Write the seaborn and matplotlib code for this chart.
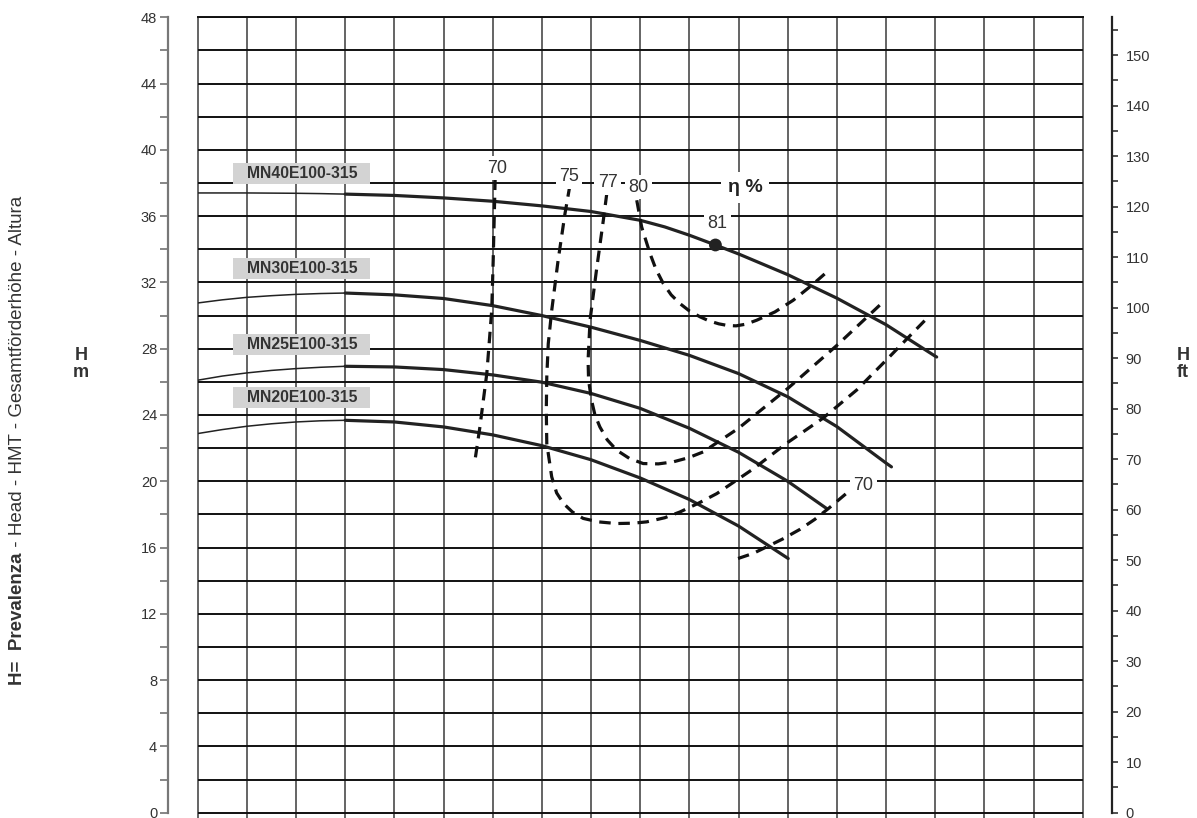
import numpy as np
import pandas as pd
import seaborn as sns
import matplotlib.pyplot as plt
from matplotlib.patches import Rectangle
from matplotlib.ticker import MultipleLocator

# ---- pump curves (x in grid columns, H in m) ----
models = ["MN40E100-315", "MN30E100-315", "MN25E100-315", "MN20E100-315"]
model_label_y = [38.57, 32.85, 28.27, 25.06]

thin_x = [0, 0.5, 1, 1.5, 2, 2.5, 3]
mn40_thin_y = [37.4, 37.4, 37.4, 37.39, 37.38, 37.36, 37.33]
mn30_thin_y = [30.76, 30.95, 31.1, 31.2, 31.28, 31.33, 31.36]
mn25_thin_y = [26.1, 26.35, 26.54, 26.69, 26.8, 26.88, 26.94]
mn20_thin_y = [22.88, 23.12, 23.32, 23.47, 23.58, 23.65, 23.68]

mn40_x = [3, 4, 5, 6, 7, 8, 9, 9.5, 10, 10.53, 11, 12, 13, 14, 15, 15.03]
mn40_y = [37.33, 37.25, 37.1, 36.9, 36.62, 36.28, 35.75, 35.35, 34.85, 34.26, 33.72, 32.47, 31.05,
          29.45, 27.55, 27.5]
mn30_x = [3, 4, 5, 6, 7, 8, 9, 10, 11, 12, 13, 14, 14.11]
mn30_y = [31.36, 31.25, 31.03, 30.6, 30.0, 29.3, 28.5, 27.6, 26.5, 25.1, 23.3, 21.1, 20.87]
mn25_x = [3, 4, 5, 6, 7, 8, 9, 10, 11, 12, 12.79]
mn25_y = [26.94, 26.9, 26.74, 26.42, 25.98, 25.3, 24.4, 23.2, 21.75, 20.0, 18.36]
mn20_x = [3, 4, 5, 6, 7, 8, 9, 10, 11, 12.01]
mn20_y = [23.68, 23.58, 23.28, 22.8, 22.15, 21.3, 20.2, 18.9, 17.3, 15.34]

# ---- efficiency curves ----
eff70a_x = [6.05, 6.03, 6.01, 5.98, 5.93, 5.88, 5.81, 5.74, 5.64]
eff70a_y = [38.27, 35.8, 33.33, 30.32, 28.4, 26.5, 24.9, 23.28, 21.27]
eff75_x = [7.57, 7.47, 7.33, 7.2, 7.13, 7.1, 7.09, 7.1, 7.2, 7.3, 7.44, 7.62, 7.84, 8.15, 8.52, 8.85,
           9.13, 9.5, 9.81, 10.2, 10.56, 11.3, 11.98, 12.71, 13.4, 14.0, 14.86]
eff75_y = [37.86, 36.15, 33.33, 30.3, 28.3, 26.3, 24.3, 22.28, 20.27, 19.3, 18.66, 18.15, 17.76, 17.55,
           17.45, 17.47, 17.55, 17.8, 18.15, 18.7, 19.26, 20.75, 22.3, 23.79, 25.5, 27.3, 29.92]
eff77_x = [8.32, 8.25, 8.11, 7.98, 7.94, 7.95, 8.01, 8.08, 8.18, 8.33, 8.52, 8.78, 9.06, 9.37, 9.67,
           9.98, 10.28, 11.0, 12.0, 13.0, 13.98]
eff77_y = [37.36, 35.75, 32.73, 29.72, 27.31, 26.1, 24.89, 24.0, 23.28, 22.5, 21.88, 21.38, 21.07,
           21.05, 21.17, 21.42, 21.77, 23.2, 25.6, 28.2, 30.93]
eff80_x = [8.93, 9.03, 9.2, 9.32, 9.47, 9.63, 9.81, 10.0, 10.22, 10.4, 10.6, 10.78, 10.95, 11.15, 11.37,
           11.74, 12.11, 12.49, 12.82]
eff80_y = [36.96, 35.34, 33.74, 32.8, 31.93, 31.25, 30.72, 30.28, 29.92, 29.68, 29.5, 29.4, 29.38,
           29.48, 29.72, 30.22, 30.92, 31.83, 32.69]
eff70b_x = [10.99, 11.3, 11.57, 11.9, 12.25, 12.55, 12.83, 13.23]
eff70b_y = [15.34, 15.65, 16.04, 16.52, 17.1, 17.7, 18.36, 19.36]

eff_labels = ["70", "75", "77", "80", "81", "70"]
eff_label_x = [6.08, 7.55, 8.34, 8.96, 10.57, 13.54]
eff_label_y = [38.89, 38.38, 38.02, 37.74, 35.57, 19.73]
best_x = [10.53]
best_y = [34.26]

M_TO_FT = 3.28084

sns.set_style("white")
plt.rcParams['font.family'] = ['Liberation Sans', 'DejaVu Sans']

fig = plt.figure(figsize=(11.97, 8.18), dpi=100)
W, H = 1197, 818
ax = fig.add_axes([197.7 / W, 0, 885 / W, (H - 17.3) / H])
ax.set_xlim(0, 18)
ax.set_ylim(-0.32, 48)

# grid
ax.xaxis.set_major_locator(MultipleLocator(1))
ax.yaxis.set_major_locator(MultipleLocator(4))
ax.yaxis.set_minor_locator(MultipleLocator(2))
ax.grid(True, axis='x', color='#3a3a3a', linewidth=1.1)
ax.grid(True, axis='y', which='both', color='#111111', linewidth=1.4)
ax.set_axisbelow(True)
for gl in ax.get_xgridlines():
    gl.set_clip_on(False)
ax.tick_params(axis='x', length=0, labelbottom=False)
ax.tick_params(axis='y', which='both', direction='out', length=6, width=1.1,
               color='#666666', labelsize=10.5, labelcolor='#333333', pad=2)
for s in ['bottom', 'right']:
    ax.spines[s].set_visible(False)
ax.spines['top'].set_color('#111111')
ax.spines['top'].set_linewidth(1.4)
ax.spines['left'].set_position(('outward', 21.2))
ax.spines['left'].set_bounds(0, 48)
ax.spines['left'].set_color('#777777')
ax.spines['left'].set_linewidth(1.6)

# right scale in ft
axR = ax.twinx()
axR.set_ylim(-0.32 * M_TO_FT, 48 * M_TO_FT)
axR.yaxis.set_major_locator(MultipleLocator(10))
axR.yaxis.set_minor_locator(MultipleLocator(5))
for s in ['top', 'bottom', 'left']:
    axR.spines[s].set_visible(False)
axR.spines['right'].set_position(('outward', 21.3))
axR.spines['right'].set_bounds(0, 48 * M_TO_FT)
axR.spines['right'].set_color('#222222')
axR.spines['right'].set_linewidth(1.6)
axR.tick_params(axis='y', which='both', direction='out', length=4.5, width=1.1,
                color='#222222', labelsize=10.5, labelcolor='#333333', pad=5)
axR.grid(False)

# pump curves
thin_sets = [mn40_thin_y, mn30_thin_y, mn25_thin_y, mn20_thin_y]
thick_sets = [(mn40_x, mn40_y), (mn30_x, mn30_y), (mn25_x, mn25_y), (mn20_x, mn20_y)]
for ty in thin_sets:
    sns.lineplot(x=thin_x, y=ty, sort=False, estimator=None, color='#222222',
                 linewidth=1.1, ax=ax, zorder=4)
for cx, cy in thick_sets:
    sns.lineplot(x=cx, y=cy, sort=False, estimator=None, color='#222222',
                 linewidth=2.3, ax=ax, zorder=4)

# efficiency curves
eff_sets = [(eff70a_x, eff70a_y), (eff75_x, eff75_y), (eff77_x, eff77_y),
            (eff80_x, eff80_y), (eff70b_x, eff70b_y)]
for ex, ey in eff_sets:
    sns.lineplot(x=ex, y=ey, sort=False, estimator=None, color='#111111',
                 linewidth=2.3, linestyle=(0, (3.6, 2.4)), ax=ax, zorder=5)

sns.scatterplot(x=best_x, y=best_y, color='#222222', s=85, edgecolor='none',
                ax=ax, zorder=6)

# labels of efficiency
for lbl, lx, ly in zip(eff_labels, eff_label_x, eff_label_y):
    ax.text(lx, ly, lbl, ha='center', va='center', fontsize=13, color='#333333',
            zorder=7, bbox=dict(facecolor='white', edgecolor='none', pad=2.5))
ax.text(11.13, 37.7, "η %", ha='center', va='center', fontsize=14, fontweight='bold',
        color='#222222', zorder=7, bbox=dict(facecolor='white', edgecolor='none', pad=5))

# model labels in gray boxes
for name, ly in zip(models, model_label_y):
    ax.add_patch(Rectangle((2.121 - 1.393, ly - 0.633), 2.786, 1.267,
                           facecolor='#d3d3d3', edgecolor='none', zorder=3))
    ax.text(2.121, ly, name, ha='center', va='center', fontsize=11.3,
            fontweight='bold', color='#333333', zorder=4)

# axis titles
fig.text(81 / W, 1 - 364 / H, "H\nm", ha='center', va='center', fontsize=13,
         fontweight='bold', color='#333333', linespacing=1.0)
fig.text(1183 / W, 1 - 364 / H, "H\nft", ha='center', va='center', fontsize=13,
         fontweight='bold', color='#333333', linespacing=1.0)

t1 = fig.text(17.5 / W, 1 - 685 / H, "H=  Prevalenza", rotation=90, ha='center',
              va='bottom', fontsize=13.5, fontweight='bold', color='#333333')
fig.canvas.draw()
bb = t1.get_window_extent()
fig.text(17.5 / W, bb.y1 / H, " - Head - HMT - Gesamtförderhöhe - Altura",
         rotation=90, ha='center', va='bottom', fontsize=13.5, color='#333333')

fig.savefig("out.png", dpi=100)
